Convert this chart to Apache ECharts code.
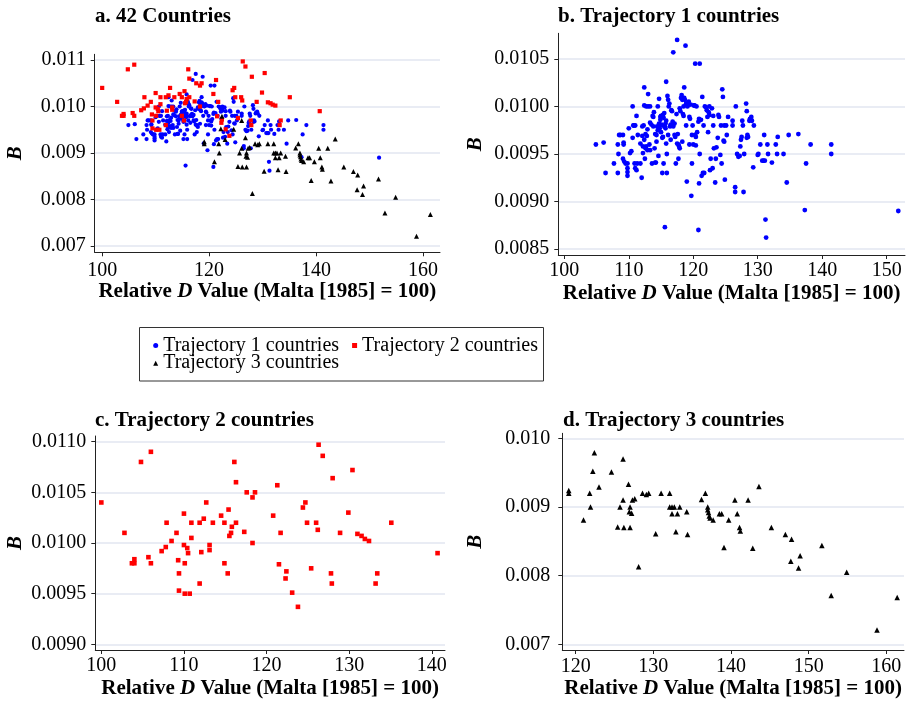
<!DOCTYPE html>
<html>
<head>
<meta charset="utf-8">
<script src="https://cdn.jsdelivr.net/npm/echarts@6/dist/echarts.min.js"></script>
<style>
  html, body { margin: 0; padding: 0; background: #fff; }
  #chart { width: 907px; height: 701px; }
</style>
</head>
<body>
<div id="chart"></div>
<script>
// [Relative D value, B]
const traj1 = [
  [104.9,0.00960],[106.1,0.00962],[106.4,0.00930],[107.7,0.00940],[108.3,0.00960],[108.3,0.00930],
  [108.4,0.00950],[108.5,0.00970],[108.7,0.00970],[109.1,0.00970],[109.2,0.00960],[109.2,0.00962],
  [109.1,0.00945],[109.3,0.00942],[109.5,0.00940],[109.8,0.00940],[109.8,0.00935],[109.8,0.00931],
  [109.8,0.00927],[110.0,0.00977],[110.2,0.00951],[110.4,0.00953],[110.6,0.01000],[110.6,0.00967],
  [110.7,0.00980],[110.8,0.00980],[110.9,0.00940],[111.0,0.00935],[111.0,0.00980],[111.2,0.00990],
  [111.2,0.00933],[111.3,0.00940],[111.4,0.00970],[111.8,0.00940],[111.8,0.00961],[112.0,0.00925],
  [112.1,0.00979],[112.1,0.00969],[112.2,0.00951],[112.2,0.00958],[112.3,0.00980],[112.4,0.01020],
  [112.4,0.01001],[112.4,0.00965],[112.5,0.00945],[112.6,0.00971],[112.6,0.00956],[112.7,0.01000],
  [112.7,0.00958],[112.8,0.00969],[112.9,0.00954],[112.9,0.00976],[113.0,0.01013],[113.0,0.01000],
  [113.2,0.00960],[113.3,0.00954],[113.3,0.01000],[113.3,0.00983],[113.5,0.00981],[113.6,0.00940],
  [113.7,0.00990],[113.8,0.00989],[113.8,0.00979],[113.9,0.00994],[114.0,0.00956],[114.1,0.00971],
  [114.1,0.00941],[114.2,0.00941],[114.3,0.00970],[114.3,0.00963],[114.4,0.00979],[114.5,0.01000],
  [114.5,0.00975],[114.6,0.00948],[114.7,0.00982],[114.7,0.01008],[114.8,0.00980],[114.8,0.00977],
  [114.9,0.00986],[114.9,0.00989],[115.0,0.00990],[115.0,0.00973],[115.1,0.00981],[115.2,0.00967],
  [115.2,0.00930],[115.3,0.00991],[115.3,0.00968],[115.4,0.00988],[115.4,0.00940],[115.5,0.00979],
  [115.5,0.00993],[115.6,0.00979],[115.7,0.00982],[115.7,0.00977],[115.8,0.00985],[115.8,0.00961],
  [115.8,0.01026],[115.9,0.00950],[115.9,0.00930],[116.0,0.01011],[116.1,0.00970],[116.1,0.01007],
  [116.2,0.01000],[116.3,0.01003],[116.4,0.00979],[116.5,0.00981],[116.5,0.00965],[116.6,0.00996],
  [116.7,0.00995],[116.8,0.00984],[116.9,0.00979],[116.9,0.01057],[116.9,0.00981],[117.1,0.00982],
  [117.1,0.00970],[117.2,0.00968],[117.3,0.00940],[117.4,0.00992],[117.5,0.01070],[117.5,0.00961],
  [117.6,0.00971],[117.7,0.00960],[117.7,0.00945],[117.8,0.00958],[117.9,0.00956],[117.9,0.00998],
  [118.0,0.00995],[118.1,0.01009],[118.2,0.01012],[118.3,0.00963],[118.3,0.01007],[118.4,0.00992],
  [118.5,0.00990],[118.5,0.01000],[118.6,0.01020],[118.6,0.01009],[118.7,0.01007],[118.8,0.01064],
  [118.9,0.01003],[118.9,0.00980],[119.0,0.01003],[119.0,0.00921],[119.1,0.01000],[119.1,0.01001],
  [119.2,0.01002],[119.3,0.01005],[119.4,0.00989],[119.4,0.00960],[119.5,0.00987],[119.6,0.01002],
  [119.7,0.00906],[119.8,0.00940],[119.8,0.00970],[119.9,0.00980],[120.0,0.00960],[120.1,0.01001],
  [120.2,0.01001],[120.3,0.00970],[120.3,0.01045],[120.4,0.00968],[120.4,0.00959],[120.5,0.01000],
  [120.6,0.00973],[120.8,0.00984],[120.8,0.00870],[120.9,0.00987],[120.9,0.00919],[121.0,0.00950],
  [121.0,0.01045],[121.2,0.00986],[121.3,0.00927],[121.4,0.01010],[121.5,0.00930],[121.6,0.00980],
  [121.7,0.00930],[121.8,0.01000],[122.0,0.00999],[122.1,0.00996],[122.2,0.00989],[122.3,0.00973],
  [122.4,0.00994],[122.5,0.01000],[122.5,0.00991],[122.6,0.00933],[122.7,0.00945],[122.9,0.00998],
  [123.0,0.00935],[123.1,0.00990],[123.1,0.00980],[123.2,0.00956],[123.4,0.00920],[123.5,0.00945],
  [123.6,0.00957],[123.8,0.00967],[123.9,0.00991],[124.0,0.00989],[124.2,0.00949],[124.3,0.00980],
  [124.4,0.00940],[124.5,0.01018],[124.6,0.01010],[124.7,0.00964],[124.8,0.00980],[124.8,0.00963],
  [124.9,0.00923],[125.1,0.00980],[125.2,0.00970],[125.4,0.00989],[126.1,0.00985],[126.1,0.00980],
  [126.5,0.00915],[126.5,0.00910],[126.6,0.01000],[126.8,0.00950],[127.0,0.00947],[127.2,0.00948],
  [127.3,0.00958],[127.4,0.00965],[127.5,0.00968],[127.6,0.00985],[127.7,0.00980],[127.8,0.00910],
  [127.9,0.00950],[128.2,0.01003],[128.3,0.00995],[128.3,0.00967],[128.4,0.00970],[128.5,0.00968],
  [128.7,0.00985],[128.8,0.00987],[129.0,0.00989],[129.1,0.00985],[129.3,0.00936],[129.4,0.00980],
  [130.0,0.00949],[130.1,0.00950],[130.4,0.00960],[130.7,0.00943],[130.9,0.00943],[131.0,0.00970],
  [131.1,0.00943],[131.2,0.00881],[131.3,0.00862],[131.5,0.00960],[131.6,0.00950],[132.2,0.00941],
  [132.8,0.00960],[133.0,0.00950],[133.1,0.00968],[134.0,0.00950],[134.5,0.00920],[134.8,0.00970],
  [136.3,0.00971],[137.3,0.00891],[137.5,0.00940],[138.2,0.00960],[141.4,0.00960],[141.4,0.00950],
  [151.8,0.00890],[115.6,0.00873]
]

const traj2 = [
  [100.0,0.01040],[102.8,0.01010],[103.7,0.00980],[104.0,0.00980],[104.0,0.00984],[104.8,0.01080],
  [105.7,0.00986],[106.0,0.01090],[106.0,0.00980],[107.3,0.00992],[107.8,0.00996],[107.9,0.01020],
  [108.5,0.01002],[109.1,0.01010],[109.3,0.00983],[109.4,0.00970],[109.4,0.00953],[110.0,0.01029],
  [110.0,0.00998],[110.1,0.00980],[110.1,0.00950],[110.4,0.00995],[110.5,0.00990],[110.7,0.00950],
  [110.9,0.01020],[110.9,0.01005],[111.9,0.01020],[111.9,0.00960],[112.1,0.00991],[112.4,0.01024],
  [112.7,0.01040],[113.1,0.00998],[113.1,0.00993],[113.5,0.01020],[114.5,0.01027],[114.9,0.00980],
  [114.9,0.01020],[115.3,0.00970],[115.4,0.01033],[115.5,0.01007],[115.7,0.01010],[115.8,0.01016],
  [116.1,0.01080],[116.3,0.01060],[116.3,0.01020],[117.3,0.01011],[117.6,0.01050],[118.3,0.01045],
  [118.6,0.01050],[118.3,0.01000],[120.8,0.01027],[121.3,0.01057],[121.5,0.00979],[121.7,0.01010],
  [122.4,0.00972],[122.3,0.00965],[123.1,0.00951],[123.8,0.00937],[124.4,0.01035],[124.7,0.01040],
  [124.9,0.01020],[125.4,0.00975],[126.0,0.01020],[126.2,0.01013],[126.3,0.01097],[126.8,0.01086],
  [127.8,0.00970],[127.9,0.00960],[128.0,0.01064],[128.9,0.01010],[129.9,0.01030],[130.4,0.01072],
  [131.0,0.01009],[131.5,0.01007],[131.9,0.01004],[132.4,0.01002],[133.2,0.00960],[133.4,0.00970],
  [135.1,0.01020],[140.7,0.00990]
]

const traj3 = [
  [119.1,0.00924],[119.1,0.00920],[121.0,0.00881],[121.8,0.00920],[121.9,0.00900],[122.2,0.00952],
  [122.4,0.00979],[123.0,0.00929],[124.6,0.00951],[125.4,0.00871],[125.7,0.00900],[126.1,0.00970],
  [126.1,0.00910],[126.2,0.00870],[126.8,0.00933],[127.0,0.00900],[127.0,0.00870],[126.9,0.00893],
  [127.2,0.00891],[127.3,0.00910],[127.6,0.00912],[128.1,0.00813],[128.6,0.00920],[129.1,0.00918],
  [129.4,0.00920],[130.3,0.00861],[131.0,0.00920],[132.1,0.00920],[132.1,0.00900],[132.4,0.00900],
  [132.7,0.00900],[132.4,0.00890],[132.9,0.00864],[133.1,0.00890],[133.4,0.00900],[134.3,0.00893],
  [134.4,0.00860],[136.2,0.00911],[136.7,0.00920],[137.0,0.00900],[137.0,0.00896],[137.1,0.00892],
  [137.2,0.00887],[137.3,0.00884],[137.7,0.00881],[138.5,0.00890],[138.8,0.00890],[139.1,0.00841],
  [139.7,0.00881],[140.5,0.00910],[140.8,0.00890],[141.1,0.00870],[141.2,0.00865],[142.2,0.00910],
  [142.8,0.00840],[143.6,0.00930],[145.2,0.00870],[147.0,0.00860],[147.8,0.00853],[147.7,0.00821],
  [148.7,0.00811],[148.9,0.00829],[151.7,0.00844],[152.9,0.00771],[154.9,0.00805],[158.8,0.00721],
  [161.4,0.00768]
]

const seriesNames = ['Trajectory 1 countries', 'Trajectory 2 countries', 'Trajectory 3 countries']
const panelTitles = ['a. 42 Countries', 'b. Trajectory 1 countries', 'c. Trajectory 2 countries', 'd. Trajectory 3 countries']

const xTicks = [
  [100, 120, 140, 160],
  [100, 110, 120, 130, 140, 150],
  [100, 110, 120, 130, 140],
  [120, 130, 140, 150, 160]
]
const yTicks = [
  [0.007, 0.008, 0.009, 0.010, 0.011],
  [0.0085, 0.0090, 0.0095, 0.0100, 0.0105],
  [0.0090, 0.0095, 0.0100, 0.0105, 0.0110],
  [0.007, 0.008, 0.009, 0.010]
]
const yDecimals = [3, 4, 4, 3]

const font = 'Liberation Serif'

// plot areas and axis ranges (padding like the original graph)
const grids = [
  { left: 94.7, top: 54.3, width: 345.3, height: 198 },
  { left: 558.3, top: 33.3, width: 346.7, height: 221.7 },
  { left: 95.3, top: 436, width: 349.7, height: 214 },
  { left: 562.3, top: 433.3, width: 341.7, height: 216.7 }
]
const xRange = [[98.6, 163.2], [99.07, 152.84], [99.27, 141.6], [118.27, 162.28]]
const yRange = [[0.006865, 0.011123], [0.008437, 0.01077], [0.008944, 0.011056], [0.006917, 0.010073]]
const yNameGap = [69, 72, 69, 76]
const xLabelMargin = [8, 6, 6, 7]
const yLabelMargin = [9, 9, 9, 12]

const colors = ['#0000ff', '#ff0000', '#000000']
const symbols = ['circle', 'rect', 'triangle']

const xAxes = grids.map((g, i) => ({
  type: 'value',
  gridIndex: i,
  min: xRange[i][0],
  max: xRange[i][1],
  name: '{b|Relative }{i|D}{b| Value (Malta [1985] = 100)}',
  nameLocation: 'middle',
  nameGap: 28,
  nameTextStyle: {
    rich: {
      b: { fontFamily: font, fontSize: 21, fontWeight: 'bold', color: '#000' },
      i: { fontFamily: font, fontSize: 21, fontWeight: 'bold', fontStyle: 'italic', color: '#000' }
    }
  },
  axisLine: { show: true, onZero: false, lineStyle: { color: '#222', width: 1 } },
  axisTick: { show: true, length: 4, lineStyle: { color: '#222' }, customValues: xTicks[i] },
  axisLabel: {
    customValues: xTicks[i],
    margin: xLabelMargin[i],
    fontFamily: font,
    fontSize: 20,
    color: '#000'
  },
  splitLine: { show: false }
}))

const yAxes = grids.map((g, i) => ({
  type: 'value',
  gridIndex: i,
  min: yRange[i][0],
  max: yRange[i][1],
  name: 'B',
  nameLocation: 'middle',
  nameGap: yNameGap[i],
  nameRotate: 90,
  nameTextStyle: { fontFamily: font, fontSize: 21, fontWeight: 'bold', fontStyle: 'italic', color: '#000' },
  axisLine: { show: true, onZero: false, lineStyle: { color: '#222', width: 1 } },
  axisTick: { show: true, length: 4, lineStyle: { color: '#222' }, customValues: yTicks[i] },
  axisLabel: {
    customValues: yTicks[i],
    margin: yLabelMargin[i],
    fontFamily: font,
    fontSize: 20,
    color: '#000',
    formatter: (v) => v.toFixed(yDecimals[i])
  },
  splitLine: { show: true, lineStyle: { color: '#e2e6f1', width: 1.5 } }
}))

const scatter = (k, data, gridIdx, size) => ({
  type: 'scatter',
  name: seriesNames[k],
  xAxisIndex: gridIdx,
  yAxisIndex: gridIdx,
  data: data,
  symbol: symbols[k],
  symbolSize: size,
  itemStyle: { color: colors[k], opacity: 1 },
  silent: true,
  animation: false
})

const series = [
  scatter(0, traj1, 0, 4.2),
  scatter(1, traj2, 0, 4.2),
  scatter(2, traj3, 0, 5),
  scatter(0, traj1, 1, 4.8),
  scatter(1, traj2, 2, 4.6),
  scatter(2, traj3, 3, 5.5)
]

const titlePos = [[95, 6], [558, 6], [95, 410], [563, 410]]

const legendText = { fontFamily: font, fontSize: 20, color: '#000' }

const option = {
  backgroundColor: '#fff',
  animation: false,
  title: panelTitles.map((t, i) => ({
    text: t,
    left: titlePos[i][0],
    top: titlePos[i][1],
    padding: 0,
    textStyle: { fontFamily: font, fontSize: 21, fontWeight: 'bold', color: '#000' }
  })),
  graphic: [
    {
      type: 'rect',
      shape: { x: 139.5, y: 327.5, width: 404, height: 53.5 },
      style: { fill: '#fff', stroke: '#333', lineWidth: 1 },
      z: 0
    }
  ],
  legend: [
    {
      left: 153.2,
      top: 335.5,
      padding: 0,
      itemGap: 13,
      itemWidth: 5,
      itemHeight: 5,
      selectedMode: false,
      textStyle: legendText,
      data: [
        { name: seriesNames[0], icon: 'circle' },
        { name: seriesNames[1], icon: 'rect' }
      ]
    },
    {
      left: 153.2,
      top: 353.2,
      padding: 0,
      itemWidth: 5,
      itemHeight: 5,
      selectedMode: false,
      textStyle: legendText,
      data: [{ name: seriesNames[2], icon: 'triangle' }]
    }
  ],
  grid: grids,
  xAxis: xAxes,
  yAxis: yAxes,
  series: series
}

const chart = echarts.init(document.getElementById('chart'))
chart.setOption(option)
</script>
</body>
</html>
